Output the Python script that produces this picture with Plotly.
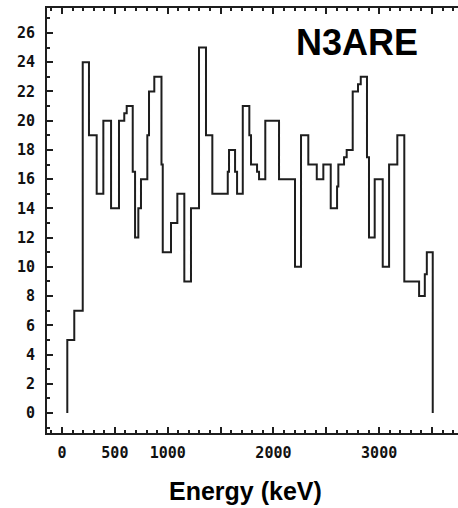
import plotly.graph_objects as go

# Bin edges (keV) and counts
bin_edges = [50, 116, 196, 255, 328, 391, 464, 539, 589, 612, 669, 691, 722, 747,
             807, 823, 873, 941, 953, 1031, 1091, 1157, 1220, 1296, 1362, 1422,
             1568, 1580, 1637, 1656, 1710, 1772, 1788, 1845, 1864, 1923, 2053,
             2204, 2261, 2330, 2410, 2472, 2542, 2602, 2614, 2668, 2693, 2750,
             2800, 2826, 2885, 2904, 2958, 3034, 3094, 3172, 3238, 3378, 3432,
             3451, 3507]
counts = [5, 7, 24, 19, 15, 20, 14, 20, 20.5, 21, 16.5, 12, 14, 16,
          19, 22, 23, 17, 11, 13, 15, 9, 14, 25, 19, 15,
          16.5, 18, 16.5, 15, 21, 19, 17, 16.5, 16, 20, 16,
          10, 19, 17, 16, 17, 14, 15.5, 17, 17.5, 18, 22,
          22.5, 23, 17.5, 12, 16, 10, 17, 19, 9, 8, 9.5, 11]

x_tickvals = [0, 500, 1000, 1500, 2000, 2500, 3000, 3500]
x_ticktext = ["0", "500", "1000", "", "2000", "", "3000", ""]
y_tickvals = list(range(0, 27, 2))
y_ticktext = [str(v) for v in y_tickvals]

title_text = "N3ARE"
xlabel_text = "Energy (keV)"

xs = [bin_edges[0]] + bin_edges
ys = [0] + counts + [0]

fig = go.Figure()
fig.add_trace(go.Scatter(
    x=xs, y=ys, mode="lines", line=dict(shape="hv", color="#1e1e1e", width=2),
    hoverinfo="skip", showlegend=False))

tickfont = dict(family="DejaVu Sans Mono", size=15, color="#111111", weight="bold")

fig.update_layout(
    width=458, height=508,
    margin=dict(l=47, r=0, t=8, b=75),
    paper_bgcolor="white", plot_bgcolor="white",
    showlegend=False,
    xaxis=dict(
        range=[-142, 3746], showgrid=False, zeroline=False,
        showline=True, linecolor="#1e1e1e", linewidth=2, mirror="ticks",
        ticks="inside", ticklen=6, tickwidth=2, tickcolor="#1e1e1e",
        tickvals=x_tickvals, ticktext=x_ticktext, tickfont=tickfont,
        ticklabelstandoff=5,
        minor=dict(ticks="inside", ticklen=3, tickwidth=1.5, dtick=100,
                   tick0=0, tickcolor="#1e1e1e", showgrid=False),
    ),
    yaxis=dict(
        range=[-1.37, 27.71], showgrid=False, zeroline=False,
        showline=True, linecolor="#1e1e1e", linewidth=2, mirror=False,
        ticks="inside", ticklen=6, tickwidth=2, tickcolor="#1e1e1e",
        tickvals=y_tickvals, ticktext=y_ticktext, tickfont=tickfont,
        ticklabelstandoff=7,
        minor=dict(ticks="inside", ticklen=3, tickwidth=1.5, dtick=1,
                   tick0=0, tickcolor="#1e1e1e", showgrid=False),
    ),
    annotations=[
        dict(text=title_text, xref="paper", yref="paper",
             x=(357 - 47) / 411, y=(433 - 42.5) / 425,
             xanchor="center", yanchor="middle", showarrow=False,
             font=dict(family="Liberation Sans", size=36, color="black", weight="bold")),
        dict(text=xlabel_text, xref="paper", yref="paper",
             x=(245.5 - 47) / 411, y=(433 - 491) / 425,
             xanchor="center", yanchor="middle", showarrow=False,
             font=dict(family="Liberation Sans", size=25, color="black", weight="bold")),
    ],
)

fig.write_html("out.html")
